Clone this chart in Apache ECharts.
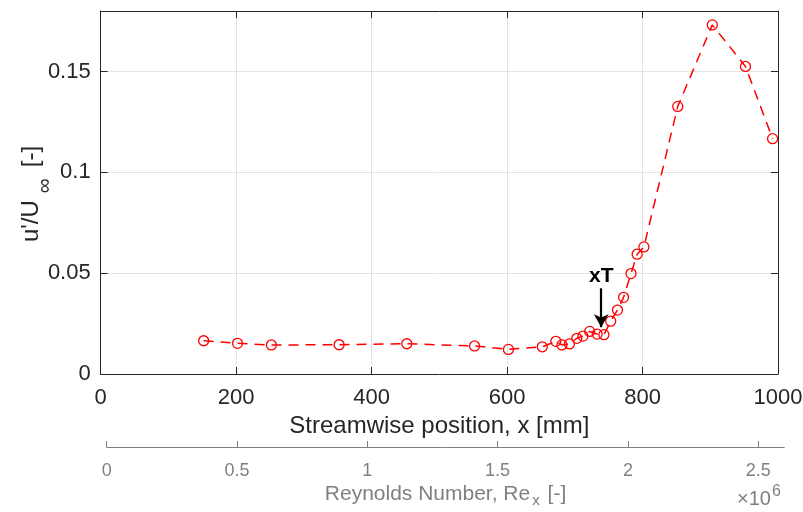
<!DOCTYPE html>
<html>
<head>
<meta charset="utf-8">
<script src="https://cdn.jsdelivr.net/npm/echarts@6/dist/echarts.min.js"></script>
<style>
  html, body { margin: 0; padding: 0; background: #fff; }
  #chart { width: 803px; height: 512px; }
</style>
</head>
<body>
<div id="chart"></div>
<script>
// streamwise position [mm] and turbulence intensity u'/U_inf [-]
const xPos = [152, 202, 252, 352, 452, 552, 602, 652, 672, 681, 692, 703, 712, 722, 733, 743,
  753, 763, 772, 783, 792, 802, 852, 903, 952, 992]
const uPrime = [0.0165, 0.0152, 0.0144, 0.0145, 0.0150, 0.0139, 0.0122, 0.0135, 0.0162, 0.0144,
  0.0149, 0.0177, 0.0188, 0.0211, 0.0198, 0.0195, 0.0262, 0.0317, 0.0380, 0.0498, 0.0594,
  0.0630, 0.1327, 0.1731, 0.1525, 0.1167]
// transition location marker (arrow from top to tip)
const xT = 739
const xTArrow = [0.0425, 0.0232]

const font = '"Liberation Sans", Helvetica, Arial, sans-serif'
const dark = '#262626'
const gray = '#808080'

const chart = echarts.init(document.getElementById('chart'))

// box axes (top / right) only mirror ticks
const boxAxis = {
  axisLine: { show: true, onZero: false, lineStyle: { color: dark, width: 1 } },
  axisTick: { show: true, inside: true, length: 7, lineStyle: { color: dark } },
  axisLabel: { show: false },
  splitLine: { show: false }
}

chart.setOption({
  animation: false,
  grid: [
    { left: 100.7, right: 25, top: 11, bottom: 138, outerBoundsMode: 'none', containLabel: false },
    { left: 106.7, width: 677.6, top: 447, height: 0, outerBoundsMode: 'none', containLabel: false }
  ],
  xAxis: [
    {
      gridIndex: 0, type: 'value', min: 0, max: 1000, interval: 200, position: 'bottom',
      axisLine: { onZero: false, lineStyle: { color: dark, width: 1 } },
      axisTick: { inside: true, length: 7, lineStyle: { color: dark } },
      axisLabel: { color: dark, fontSize: 22, fontFamily: font, margin: 13, formatter: v => String(v) },
      splitLine: { show: true, lineStyle: { color: '#e3e3e3', width: 1 } },
      name: 'Streamwise position, x [mm]', nameLocation: 'middle', nameGap: 32,
      nameTextStyle: { color: dark, fontSize: 24, fontFamily: font }
    },
    Object.assign({ gridIndex: 0, type: 'value', min: 0, max: 1000, interval: 200, position: 'top' }, boxAxis),
    {
      gridIndex: 1, type: 'value', min: 0, max: 2.6, interval: 0.5, position: 'bottom',
      axisLine: { onZero: false, lineStyle: { color: gray, width: 1 } },
      axisTick: { inside: true, length: 6, lineStyle: { color: gray } },
      axisLabel: { color: gray, fontSize: 18, fontFamily: font, margin: 15, showMaxLabel: false },
      splitLine: { show: false },
      name: '{a|Reynolds Number, Re}{s|x}{a| [-]}', nameLocation: 'middle', nameGap: 33,
      nameTextStyle: {
        rich: {
          a: { color: gray, fontSize: 21, fontFamily: font },
          s: { color: gray, fontSize: 15, fontFamily: font, padding: [13, 2, 0, 2] }
        }
      }
    }
  ],
  yAxis: [
    {
      gridIndex: 0, type: 'value', min: 0, max: 0.18, interval: 0.05,
      axisLine: { show: true, onZero: false, lineStyle: { color: dark, width: 1 } },
      axisTick: { show: true, inside: true, length: 7, lineStyle: { color: dark } },
      axisLabel: { color: dark, fontSize: 22, fontFamily: font, margin: 10, showMaxLabel: false },
      splitLine: { show: true, lineStyle: { color: '#e3e3e3', width: 1 } }
    },
    Object.assign({ gridIndex: 0, type: 'value', min: 0, max: 0.18, interval: 0.05, position: 'right' }, boxAxis),
    { gridIndex: 1, type: 'value', show: false }
  ],
  graphic: [
    {
      // y-axis title, rotated, with subscript infinity
      type: 'text', x: 31, y: 194, rotation: Math.PI / 2,
      style: {
        text: "{a|u'/U}{s|∞}{a|[-]}",
        align: 'center', verticalAlign: 'middle',
        rich: {
          a: { fill: dark, fontSize: 24, fontFamily: font },
          s: { fill: dark, fontSize: 21, fontFamily: font, padding: [28, 11, 0, 7] }
        }
      }
    },
    {
      type: 'text', x: 737, y: 482,
      style: {
        text: '{a|×10}{s|6}',
        rich: {
          a: { fill: gray, fontSize: 20, fontFamily: font, padding: [7, 0, 0, 0] },
          s: { fill: gray, fontSize: 16, fontFamily: font, padding: [0, 0, 8, 1] }
        }
      }
    }
  ],
  series: [
    {
      type: 'line',
      xAxisIndex: 0, yAxisIndex: 0,
      data: xPos.map((x, i) => [x, uPrime[i]]),
      symbol: 'circle', symbolSize: 10,
      itemStyle: { color: 'rgba(0,0,0,0)', borderColor: '#ff0000', borderWidth: 1.3 },
      lineStyle: { color: '#ff0000', width: 1.5, type: [10, 7] },
      markLine: {
        silent: true,
        symbol: ['none', 'arrow'],
        symbolSize: [11, 13],
        lineStyle: { color: '#000', width: 2.2, type: 'solid' },
        label: {
          show: true, position: 'start', formatter: 'xT', distance: 2,
          color: '#000', fontSize: 21, fontWeight: 'bold', fontFamily: font
        },
        data: [[{ coord: [xT, xTArrow[0]] }, { coord: [xT, xTArrow[1]] }]]
      }
    }
  ]
})
</script>
</body>
</html>
